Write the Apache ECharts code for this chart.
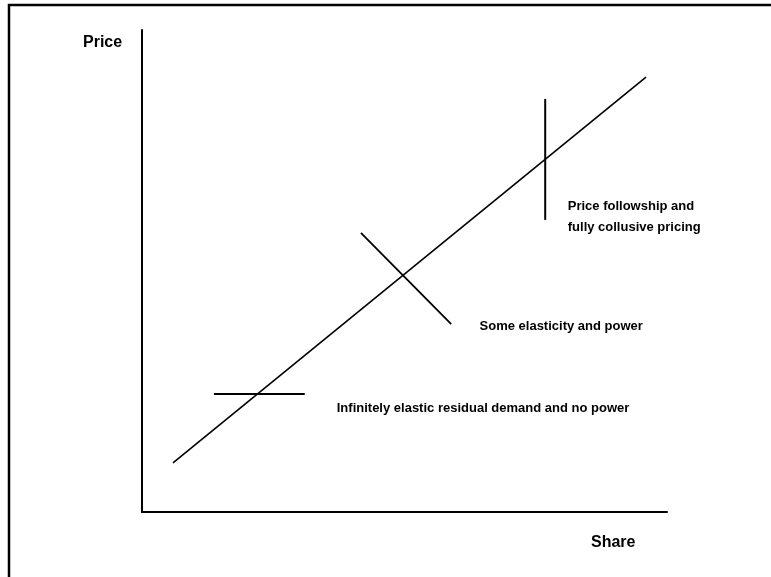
<!DOCTYPE html>
<html>
<head>
<meta charset="utf-8">
<script src="https://cdn.jsdelivr.net/npm/echarts@6/dist/echarts.min.js"></script>
<style>
html,body{margin:0;padding:0;background:#fff;}
#c{width:771px;height:577px;}
</style>
</head>
<body>
<div id="c"></div>
<script>
// Values on a 0–100 (share) by 0–100 (price) scale
const mainLine = [[5.9, 10.2], [96.0, 90.2]];
const noPowerSeg = [[13.7, 24.5], [31.0, 24.5]];
const somePowerSeg = [[41.7, 57.9], [58.9, 39.0]];
const collusiveSeg = [[76.8, 85.7], [76.8, 60.6]];
const annotations = [
  { pos: [37.0, 21.4], text: 'Infinitely elastic residual demand and no power' },
  { pos: [64.2, 38.6], text: 'Some elasticity and power' },
  { pos: [81.0, 61.3], text: 'Price followship and\nfully collusive pricing' }
];
const axisTitles = { x: 'Share', y: 'Price' };

const chart = echarts.init(document.getElementById('c'), null, { renderer: 'canvas' });
const lineStyleOf = (w) => ({ color: '#000', width: w });
const seg = (data, w) => ({
  type: 'line', data: data, symbol: 'none', silent: true,
  lineStyle: lineStyleOf(w), animation: false
});
const labelStyle = {
  show: true, position: 'right', distance: 0,
  color: '#000', textBorderWidth: 0,
  fontFamily: 'Liberation Sans, Arial, sans-serif',
  fontWeight: 'bold', fontSize: 13, lineHeight: 21, align: 'left'
};
chart.setOption({
  backgroundColor: '#fff',
  animation: false,
  grid: { left: 142, top: 30, right: 104, bottom: 65 },
  xAxis: {
    type: 'value', min: 0, max: 100,
    axisLine: { show: true, lineStyle: { color: '#000', width: 2 } },
    axisTick: { show: false }, axisLabel: { show: false }, splitLine: { show: false }
  },
  yAxis: {
    type: 'value', min: 0, max: 100,
    axisLine: { show: true, lineStyle: { color: '#000', width: 2 } },
    axisTick: { show: false }, axisLabel: { show: false }, splitLine: { show: false }
  },
  series: [
    seg(mainLine, 1.6),
    seg(noPowerSeg, 2),
    seg(somePowerSeg, 1.8),
    seg(collusiveSeg, 2),
    {
      type: 'scatter', symbol: 'circle', symbolSize: 1, silent: true,
      itemStyle: { color: 'rgba(0,0,0,0)', opacity: 1 },
      data: annotations.map(a => ({
        value: a.pos,
        label: Object.assign({}, labelStyle, { formatter: a.text })
      })),
      label: labelStyle
    }
  ],
  graphic: [
    {
      type: 'polyline', silent: true,
      shape: { points: [[9, 577], [9, 5], [771, 5]] },
      style: { stroke: '#000', lineWidth: 2.5, fill: null }
    },
    {
      type: 'text', left: 83, top: 35, silent: true,
      style: { text: axisTitles.y, fill: '#000', font: 'bold 16px "Liberation Sans", Arial, sans-serif' }
    },
    {
      type: 'text', left: 591, top: 535, silent: true,
      style: { text: axisTitles.x, fill: '#000', font: 'bold 16px "Liberation Sans", Arial, sans-serif' }
    }
  ]
});
</script>
</body>
</html>
